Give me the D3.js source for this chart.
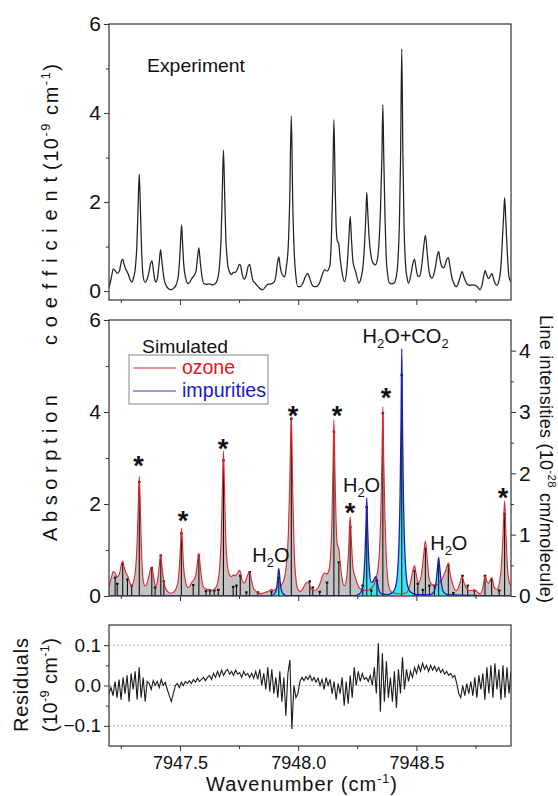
<!DOCTYPE html>
<html>
<head>
<meta charset="utf-8">
<script src="https://cdn.jsdelivr.net/npm/d3@7"></script>
<style>
body { margin: 0; background: #fff; }
text { font-family: "Liberation Sans", Arial, sans-serif; fill: #111; }
</style>
</head>
<body>
<div id="chart"></div>
<script>
var w = 558, h = 796;

// ---- data ----
// experiment: [wavenumber cm-1, absorption 1e-9 cm-1]
var experiment = [
  [7947.200,0.08],[7947.210,0.30],[7947.218,0.50],[7947.226,0.46],[7947.234,0.40],[7947.244,0.45],
  [7947.252,0.66],[7947.258,0.72],[7947.264,0.60],[7947.272,0.48],[7947.280,0.40],[7947.290,0.25],
  [7947.296,0.20],[7947.304,0.30],[7947.312,0.55],[7947.318,1.05],[7947.323,1.90],[7947.328,2.63],
  [7947.333,1.80],[7947.338,0.90],[7947.344,0.35],[7947.352,0.20],[7947.360,0.25],[7947.368,0.40],
  [7947.376,0.62],[7947.382,0.68],[7947.388,0.45],[7947.394,0.25],[7947.399,0.20],[7947.405,0.30],
  [7947.412,0.62],[7947.418,0.93],[7947.424,0.65],[7947.432,0.30],[7947.442,0.12],[7947.452,0.05],
  [7947.462,0.03],[7947.472,0.06],[7947.482,0.12],[7947.492,0.30],[7947.499,0.75],[7947.503,1.15],
  [7947.507,1.49],[7947.511,1.10],[7947.516,0.60],[7947.524,0.30],[7947.534,0.17],[7947.542,0.20],
  [7947.550,0.28],[7947.560,0.35],[7947.568,0.45],[7947.575,0.78],[7947.580,0.97],[7947.586,0.65],
  [7947.594,0.30],[7947.601,0.17],[7947.612,0.15],[7947.625,0.16],[7947.637,0.14],[7947.648,0.16],
  [7947.658,0.25],[7947.667,0.55],[7947.674,1.20],[7947.679,2.20],[7947.684,3.17],[7947.689,2.20],
  [7947.694,1.20],[7947.700,0.70],[7947.708,0.45],[7947.718,0.37],[7947.726,0.42],[7947.734,0.42],
  [7947.744,0.50],[7947.751,0.60],[7947.756,0.58],[7947.763,0.38],[7947.772,0.27],[7947.780,0.35],
  [7947.788,0.55],[7947.795,0.60],[7947.802,0.40],[7947.810,0.22],[7947.818,0.18],[7947.830,0.10],
  [7947.840,0.05],[7947.850,0.03],[7947.862,0.10],[7947.872,0.15],[7947.886,0.16],[7947.898,0.20],
  [7947.906,0.35],[7947.912,0.62],[7947.918,0.77],[7947.924,0.55],[7947.932,0.38],[7947.943,0.32],
  [7947.950,0.55],[7947.958,1.00],[7947.964,2.00],[7947.971,3.94],[7947.977,2.00],[7947.983,0.90],
  [7947.990,0.35],[7947.999,0.10],[7948.010,0.10],[7948.020,0.18],[7948.030,0.32],[7948.040,0.40],
  [7948.048,0.30],[7948.058,0.15],[7948.068,0.10],[7948.077,0.10],[7948.090,0.18],[7948.104,0.40],
  [7948.112,0.48],[7948.122,0.45],[7948.133,0.55],[7948.140,1.10],[7948.146,2.30],[7948.151,3.85],
  [7948.156,2.50],[7948.161,1.40],[7948.166,1.12],[7948.171,1.08],[7948.178,0.70],[7948.186,0.40],
  [7948.196,0.21],[7948.204,0.40],[7948.210,0.80],[7948.215,1.25],[7948.220,1.68],[7948.225,1.20],
  [7948.232,0.65],[7948.243,0.44],[7948.257,0.18],[7948.266,0.30],[7948.275,0.60],[7948.282,1.20],
  [7948.287,1.80],[7948.290,2.22],[7948.294,1.80],[7948.300,1.20],[7948.308,0.80],[7948.318,0.62],
  [7948.327,0.59],[7948.336,0.75],[7948.343,1.20],[7948.349,2.00],[7948.354,3.00],[7948.358,4.19],
  [7948.362,3.00],[7948.367,1.70],[7948.372,0.80],[7948.379,0.35],[7948.386,0.18],[7948.396,0.16],
  [7948.406,0.18],[7948.414,0.30],[7948.422,0.70],[7948.428,1.50],[7948.433,3.00],[7948.438,5.44],
  [7948.443,3.00],[7948.448,1.40],[7948.454,0.60],[7948.461,0.28],[7948.467,0.18],[7948.476,0.35],
  [7948.485,0.62],[7948.492,0.72],[7948.499,0.50],[7948.507,0.33],[7948.514,0.34],[7948.522,0.55],
  [7948.530,0.95],[7948.538,1.25],[7948.545,0.90],[7948.552,0.50],[7948.560,0.32],[7948.566,0.29],
  [7948.574,0.38],[7948.582,0.60],[7948.589,0.82],[7948.594,0.89],[7948.600,0.70],[7948.608,0.55],
  [7948.615,0.52],[7948.622,0.60],[7948.629,0.72],[7948.635,0.75],[7948.642,0.55],[7948.650,0.30],
  [7948.658,0.18],[7948.668,0.10],[7948.676,0.16],[7948.684,0.30],[7948.693,0.44],[7948.702,0.30],
  [7948.712,0.18],[7948.724,0.13],[7948.738,0.14],[7948.752,0.12],[7948.760,0.08],[7948.769,0.03],
  [7948.778,0.15],[7948.785,0.35],[7948.791,0.46],[7948.798,0.35],[7948.805,0.28],[7948.812,0.33],
  [7948.819,0.39],[7948.828,0.24],[7948.840,0.13],[7948.850,0.25],[7948.858,0.60],[7948.864,1.20],
  [7948.869,1.70],[7948.873,2.10],[7948.878,1.60],[7948.884,0.90],[7948.892,0.30],[7948.900,0.20]
];

// simulated ozone spectrum (left axis)
var ozone = [
  [7947.200,0.20],[7947.210,0.40],[7947.218,0.53],[7947.226,0.50],[7947.234,0.42],[7947.244,0.48],
  [7947.252,0.68],[7947.258,0.76],[7947.264,0.62],[7947.272,0.50],[7947.280,0.42],[7947.290,0.26],
  [7947.296,0.22],[7947.304,0.32],[7947.312,0.56],[7947.318,1.05],[7947.323,1.85],[7947.328,2.60],
  [7947.333,1.80],[7947.338,0.90],[7947.344,0.36],[7947.352,0.22],[7947.360,0.26],[7947.368,0.42],
  [7947.376,0.58],[7947.382,0.62],[7947.388,0.44],[7947.394,0.25],[7947.399,0.22],[7947.405,0.32],
  [7947.412,0.62],[7947.418,0.90],[7947.424,0.64],[7947.432,0.30],[7947.442,0.14],[7947.452,0.08],
  [7947.462,0.06],[7947.472,0.08],[7947.482,0.14],[7947.492,0.32],[7947.499,0.76],[7947.503,1.15],
  [7947.507,1.47],[7947.511,1.10],[7947.516,0.60],[7947.524,0.30],[7947.534,0.18],[7947.542,0.22],
  [7947.550,0.30],[7947.560,0.36],[7947.568,0.48],[7947.575,0.78],[7947.580,0.93],[7947.586,0.64],
  [7947.594,0.30],[7947.601,0.18],[7947.612,0.15],[7947.625,0.14],[7947.637,0.12],[7947.648,0.16],
  [7947.658,0.26],[7947.667,0.56],[7947.674,1.20],[7947.679,2.20],[7947.684,3.15],[7947.689,2.20],
  [7947.694,1.20],[7947.700,0.70],[7947.708,0.48],[7947.718,0.42],[7947.726,0.46],[7947.734,0.44],
  [7947.744,0.50],[7947.751,0.56],[7947.756,0.52],[7947.763,0.34],[7947.772,0.28],[7947.780,0.36],
  [7947.788,0.48],[7947.795,0.52],[7947.802,0.36],[7947.810,0.18],[7947.818,0.12],[7947.830,0.07],
  [7947.840,0.05],[7947.850,0.06],[7947.862,0.08],[7947.872,0.10],[7947.886,0.14],[7947.898,0.12],
  [7947.906,0.16],[7947.914,0.22],[7947.922,0.20],[7947.932,0.26],[7947.944,0.45],[7947.952,0.80],
  [7947.958,1.30],[7947.964,2.40],[7947.971,3.90],[7947.977,2.30],[7947.983,1.00],[7947.990,0.40],
  [7947.999,0.14],[7948.010,0.10],[7948.020,0.16],[7948.030,0.26],[7948.040,0.30],[7948.048,0.24],
  [7948.058,0.14],[7948.068,0.12],[7948.078,0.14],[7948.090,0.24],[7948.104,0.45],[7948.112,0.50],
  [7948.122,0.48],[7948.130,0.56],[7948.136,0.80],[7948.142,1.50],[7948.147,2.70],[7948.151,3.83],
  [7948.156,2.60],[7948.161,1.50],[7948.166,1.10],[7948.171,1.05],[7948.178,0.70],[7948.186,0.36],
  [7948.196,0.22],[7948.204,0.36],[7948.210,0.70],[7948.215,1.20],[7948.220,1.72],[7948.225,1.20],
  [7948.232,0.60],[7948.242,0.40],[7948.252,0.24],[7948.262,0.16],[7948.272,0.14],[7948.282,0.12],
  [7948.292,0.12],[7948.302,0.14],[7948.312,0.18],[7948.322,0.26],[7948.330,0.40],[7948.338,0.62],
  [7948.344,1.00],[7948.349,1.70],[7948.354,2.90],[7948.358,4.12],[7948.362,2.90],[7948.367,1.70],
  [7948.372,0.90],[7948.378,0.40],[7948.386,0.16],[7948.396,0.08],[7948.410,0.06],[7948.425,0.05],
  [7948.438,0.05],[7948.452,0.06],[7948.465,0.12],[7948.475,0.30],[7948.485,0.55],[7948.492,0.66],
  [7948.499,0.48],[7948.507,0.30],[7948.514,0.32],[7948.522,0.50],[7948.530,0.85],[7948.538,1.20],
  [7948.545,0.85],[7948.552,0.45],[7948.560,0.28],[7948.566,0.25],[7948.580,0.22],[7948.594,0.28],
  [7948.606,0.34],[7948.618,0.48],[7948.628,0.62],[7948.635,0.72],[7948.642,0.50],[7948.652,0.28],
  [7948.668,0.12],[7948.676,0.16],[7948.684,0.28],[7948.693,0.42],[7948.703,0.26],[7948.713,0.16],
  [7948.724,0.12],[7948.738,0.12],[7948.752,0.12],[7948.762,0.06],[7948.770,0.05],[7948.780,0.16],
  [7948.791,0.44],[7948.798,0.32],[7948.805,0.28],[7948.812,0.34],[7948.819,0.40],[7948.828,0.20],
  [7948.840,0.14],[7948.850,0.26],[7948.860,0.70],[7948.866,1.30],[7948.873,2.07],[7948.879,1.30],
  [7948.886,0.55],[7948.892,0.32],[7948.900,0.22]
];

// simulated impurities (H2O, CO2), left axis
var impurities = [
  [7947.200,0.00],[7947.860,0.00],[7947.890,0.02],[7947.900,0.05],[7947.908,0.15],[7947.913,0.35],
  [7947.918,0.60],[7947.923,0.35],[7947.928,0.15],[7947.936,0.05],[7947.950,0.01],[7948.240,0.01],
  [7948.260,0.05],[7948.270,0.15],[7948.278,0.45],[7948.283,0.95],[7948.287,1.60],[7948.290,2.13],
  [7948.293,1.60],[7948.297,0.95],[7948.302,0.50],[7948.308,0.30],[7948.315,0.30],[7948.322,0.38],
  [7948.328,0.42],[7948.334,0.30],[7948.342,0.12],[7948.355,0.04],[7948.380,0.03],[7948.400,0.08],
  [7948.412,0.20],[7948.420,0.50],[7948.426,1.10],[7948.431,2.20],[7948.435,3.80],[7948.438,5.38],
  [7948.441,3.80],[7948.445,2.20],[7948.450,1.10],[7948.456,0.50],[7948.464,0.20],[7948.476,0.08],
  [7948.500,0.03],[7948.560,0.03],[7948.575,0.10],[7948.583,0.30],[7948.589,0.60],[7948.594,0.84],
  [7948.599,0.60],[7948.605,0.30],[7948.613,0.10],[7948.630,0.03],[7948.900,0.00]
];

// line list: [wavenumber, intensity 1e-28 cm/molecule] (right axis)
var lines = [
  [7947.226,0.30],[7947.235,0.20],[7947.258,0.52],[7947.278,0.27],[7947.296,0.17],[7947.328,1.86],
  [7947.381,0.46],[7947.395,0.14],[7947.419,0.66],[7947.432,0.24],[7947.506,1.02],[7947.556,0.18],
  [7947.580,0.66],[7947.610,0.08],[7947.627,0.09],[7947.645,0.09],[7947.662,0.10],[7947.684,2.21],
  [7947.725,0.15],[7947.739,0.17],[7947.755,0.33],[7947.781,0.06],[7947.795,0.39],[7947.830,0.06],
  [7947.887,0.07],[7947.918,0.30],[7947.971,2.89],[7948.049,0.24],[7948.062,0.14],[7948.091,0.07],
  [7948.122,0.22],[7948.151,2.68],[7948.172,0.55],[7948.220,1.12],[7948.273,0.17],[7948.290,1.45],
  [7948.309,0.09],[7948.333,0.25],[7948.358,2.98],[7948.438,3.60],[7948.492,0.41],[7948.506,0.20],
  [7948.527,0.10],[7948.538,0.77],[7948.555,0.17],[7948.576,0.17],[7948.594,0.50],[7948.635,0.50],
  [7948.656,0.05],[7948.695,0.33],[7948.717,0.17],[7948.745,0.09],[7948.790,0.33],[7948.818,0.26],
  [7948.850,0.09],[7948.873,1.34]
];

// residuals, sampled every 0.0085 cm-1 from 7947.200
var residStart = 7947.2, residStep = 0.0085;
var residuals = [
  -0.02,-0.005,-0.025,0.01,-0.03,0.015,-0.035,0.02,-0.02,0.025,
  -0.04,0.03,-0.01,0.035,-0.035,0.045,-0.03,0.02,-0.04,0.01,
  0.005,-0.01,0.012,0.0,0.01,-0.005,0.015,0.0,0.008,-0.01,
  -0.025,-0.04,-0.02,0.0,0.005,-0.005,0.008,0.0,0.01,0.005,
  0.012,0.005,0.015,0.008,0.018,0.01,0.015,0.02,0.012,0.02,
  0.025,0.015,0.03,0.02,0.035,0.022,0.038,0.025,0.035,0.04,
  0.028,0.035,0.025,0.038,0.028,0.032,0.02,0.035,0.025,0.03,
  0.02,0.03,0.018,0.035,0.015,0.04,0.0,0.03,-0.01,0.045,
  -0.015,0.04,-0.02,0.02,-0.03,0.035,-0.04,0.02,-0.075,0.03,
  0.063,-0.108,0.0,-0.03,-0.02,0.01,0.02,0.012,0.022,0.015,
  0.025,0.012,0.02,0.008,0.018,0.0,0.015,-0.01,0.02,0.0,
  0.015,-0.02,0.01,-0.035,0.005,-0.02,0.02,-0.05,0.01,-0.045,
  0.025,-0.03,0.045,0.0,0.035,0.01,0.03,0.015,0.02,0.01,
  0.025,0.0,0.045,-0.02,0.105,-0.065,0.08,-0.04,0.06,-0.03,
  0.02,-0.04,0.035,-0.055,0.04,-0.02,0.07,-0.01,0.04,0.01,
  0.035,0.02,0.045,0.03,0.05,0.035,0.055,0.04,0.05,0.035,
  0.05,0.038,0.048,0.035,0.045,0.032,0.04,0.028,0.035,0.025,
  0.03,0.02,0.025,0.005,-0.02,-0.03,0.0,-0.025,0.005,-0.02,
  0.01,-0.025,0.02,-0.03,0.025,-0.01,0.03,-0.035,0.045,-0.02,
  0.05,-0.03,0.055,-0.01,0.04,-0.035,0.05,-0.03,0.045,-0.02,0.035
];

// peak marks (asterisks) and impurity labels: [wavenumber, left-axis value]
var starMarks = [
  [7947.325,2.96],[7947.513,1.76],[7947.682,3.33],[7947.978,4.04],
  [7948.164,4.04],[7948.219,1.93],[7948.371,4.43],[7948.866,2.26]
];
var impLabels = [
  { wn: 7947.885, y: 0.74, text: ["H", "2", "O"] },
  { wn: 7948.268, y: 2.26, text: ["H", "2", "O"] },
  { wn: 7948.637, y: 1.00, text: ["H", "2", "O"] },
  { wn: 7948.454, y: 5.50, text: ["H", "2", "O+CO", "2", ""] }
];

var xMajor = [7947.5, 7948.0, 7948.5];
var xMinor = [7947.25, 7947.75, 7948.25, 7948.75];

// ---- layout ----
var left = 109, right = 511;
var svg = d3.select("#chart").append("svg").attr("width", w).attr("height", h);

var x = d3.scaleLinear().domain([7947.2, 7948.9]).range([left, right]);
var yExp = d3.scaleLinear().domain([-0.2, 6]).range([300, 24]);
var ySim = d3.scaleLinear().domain([0, 6]).range([596, 320]);
var yInt = d3.scaleLinear().domain([0, 4.5]).range([596, 320]);
var yRes = d3.scaleLinear().domain([-0.15, 0.15]).range([746, 625]);

function clip(id, y0, y1) {
  svg.append("clipPath").attr("id", id).append("rect")
    .attr("x", left).attr("y", y0).attr("width", right - left).attr("height", y1 - y0);
}
clip("cTop", 24, 300);
clip("cMid", 320, 596);
clip("cRes", 625, 746);

function frame(y0, y1) {
  svg.append("rect").attr("x", left).attr("y", y0)
    .attr("width", right - left).attr("height", y1 - y0)
    .attr("fill", "none").attr("stroke", "#333").attr("stroke-width", 1.2);
}

function xTicks(yPos, labels) {
  var g = svg.append("g").attr("transform", "translate(0," + yPos + ")");
  g.call(d3.axisBottom(x).tickValues(xMajor).tickSize(5).tickPadding(5)
    .tickFormat(labels ? d3.format(".1f") : ""));
  g.append("g").call(d3.axisBottom(x).tickValues(xMinor).tickSize(3).tickFormat(""));
  g.selectAll(".domain").remove();
  g.selectAll("line").attr("stroke", "#333");
  g.selectAll("text").attr("font-size", 18).style("font-family", "Liberation Sans, Arial, sans-serif").attr("fill", "#111");
}

function yTicks(scale, major, minor, xPos, side, fmt, fs) {
  var ax = side === "left" ? d3.axisLeft : d3.axisRight;
  var g = svg.append("g").attr("transform", "translate(" + xPos + ",0)");
  g.call(ax(scale).tickValues(major).tickSize(5).tickPadding(3).tickFormat(fmt));
  g.append("g").call(ax(scale).tickValues(minor).tickSize(3).tickFormat(""));
  g.selectAll(".domain").remove();
  g.selectAll("line").attr("stroke", "#333");
  g.selectAll("text").attr("font-size", fs).style("font-family", "Liberation Sans, Arial, sans-serif").attr("fill", "#111");
}

// ---- top panel: experiment ----
var lineExp = d3.line().x(d => x(d[0])).y(d => yExp(d[1])).curve(d3.curveMonotoneX);
svg.append("path").datum(experiment).attr("d", lineExp)
  .attr("clip-path", "url(#cTop)")
  .attr("fill", "none").attr("stroke", "#222").attr("stroke-width", 1.25);
frame(24, 300);
yTicks(yExp, [0, 2, 4, 6], [1, 3, 5], left, "left", d3.format("d"), 21);
xTicks(300, false);
svg.append("text").attr("x", 147).attr("y", 72).attr("font-size", 19)
  .attr("textLength", 98).attr("lengthAdjust", "spacingAndGlyphs").text("Experiment");

// ---- middle panel: simulation ----
var areaOz = d3.area().x(d => x(d[0])).y0(ySim(0)).y1(d => ySim(d[1])).curve(d3.curveMonotoneX);
var lineOz = d3.line().x(d => x(d[0])).y(d => ySim(d[1])).curve(d3.curveMonotoneX);
var gMid = svg.append("g").attr("clip-path", "url(#cMid)");
gMid.append("path").datum(ozone).attr("d", areaOz).attr("fill", "#c3c3c3");
gMid.append("path").datum(impurities).attr("d", areaOz).attr("fill", "#40e6ee");
gMid.selectAll("line.stick").data(lines).enter().append("line")
  .attr("class", "stick")
  .attr("x1", d => x(d[0])).attr("x2", d => x(d[0]))
  .attr("y1", yInt(0)).attr("y2", d => yInt(d[1]))
  .attr("stroke", "#111").attr("stroke-width", 1.1);
gMid.selectAll("rect.cap").data(lines).enter().append("rect")
  .attr("class", "cap")
  .attr("x", d => x(d[0]) - 1.3).attr("y", d => yInt(d[1]) - 1)
  .attr("width", 2.6).attr("height", 2).attr("fill", "#111");
gMid.append("path").datum(ozone).attr("d", lineOz)
  .attr("fill", "none").attr("stroke", "#e3222a").attr("stroke-width", 1.1);
gMid.append("path").datum(impurities).attr("d", lineOz)
  .attr("fill", "none").attr("stroke", "#1c1cb4").attr("stroke-width", 1.3);
frame(320, 596);
yTicks(ySim, [0, 2, 4, 6], [1, 3, 5], left, "left", d3.format("d"), 21);
yTicks(yInt, [0, 1, 2, 3, 4], [0.5, 1.5, 2.5, 3.5], right, "right", d3.format("d"), 21);
xTicks(596, false);

// asterisks
svg.selectAll("text.star").data(starMarks).enter().append("text")
  .attr("class", "star")
  .attr("x", d => x(d[0])).attr("y", d => ySim(d[1]) + 15)
  .attr("text-anchor", "middle").attr("font-size", 27).attr("font-weight", "bold")
  .text("*");

// impurity labels with subscripts
impLabels.forEach(function (l) {
  var t = svg.append("text").attr("x", x(l.wn)).attr("y", ySim(l.y))
    .attr("text-anchor", "middle").attr("font-size", 20);
  l.text.forEach(function (s, i) {
    var sub = i % 2 === 1;
    t.append("tspan").attr("font-size", sub ? 13 : 20)
      .attr("dy", sub ? 5 : (i > 0 ? -5 : 0)).text(s);
  });
});

// legend
svg.append("text").attr("x", 142).attr("y", 353).attr("font-size", 19)
  .attr("textLength", 86).attr("lengthAdjust", "spacingAndGlyphs").text("Simulated");
svg.append("rect").attr("x", 129).attr("y", 355).attr("width", 139).attr("height", 49)
  .attr("fill", "none").attr("stroke", "#888").attr("stroke-width", 1);
var legend = [
  { name: "ozone", color: "#e3222a", text: "#e8141b", len: 53 },
  { name: "impurities", color: "#3a3aa0", text: "#1818c8", len: 84 }
];
legend.forEach(function (d, i) {
  var yy = 368 + i * 23;
  svg.append("line").attr("x1", 133).attr("x2", 176).attr("y1", yy).attr("y2", yy)
    .attr("stroke", d.color).attr("stroke-width", 1.1);
  svg.append("text").attr("x", 182).attr("y", yy + 6).attr("font-size", 20)
    .attr("textLength", d.len).attr("lengthAdjust", "spacingAndGlyphs")
    .style("fill", d.text).text(d.name);
});

// ---- bottom panel: residuals ----
var residData = residuals.map((v, i) => [residStart + i * residStep, v]);
[-0.1, 0, 0.1].forEach(function (g) {
  svg.append("line").attr("x1", left).attr("x2", right)
    .attr("y1", yRes(g)).attr("y2", yRes(g))
    .attr("stroke", "#9a9a9a").attr("stroke-width", 0.8).attr("stroke-dasharray", "2,2");
});
var lineRes = d3.line().x(d => x(d[0])).y(d => yRes(d[1]));
svg.append("path").datum(residData).attr("d", lineRes)
  .attr("clip-path", "url(#cRes)")
  .attr("fill", "none").attr("stroke", "#1a1a1a").attr("stroke-width", 1.1);
frame(625, 746);
yTicks(yRes, [-0.1, 0, 0.1], [-0.05, 0.05], left, "left", d3.format(".1f"), 19);
xTicks(746, true);

// ---- axis titles (text stretched to the spans seen in the figure) ----
function vText(xp, yp, fs, len, parts, rot) {
  var t = svg.append("text")
    .attr("transform", "translate(" + xp + "," + yp + ") rotate(" + rot + ")")
    .attr("font-size", fs);
  parts.forEach(function (p) {
    t.append("tspan").attr("font-size", p[1] ? fs * 0.64 : fs)
      .attr("dy", p[1] ? -fs * 0.42 : (p[2] ? fs * 0.42 : 0)).text(p[0]);
  });
  if (len) t.attr("textLength", len).attr("lengthAdjust", "spacing");
  return t;
}
var unitParts = [["(10"], ["-9", 1], [" cm", 0, 1], ["-1", 1], [")", 0, 1]];
vText(57, 541, 20, 146, [["Absorption"]], -90);
vText(57, 345, 20, 168, [["coefficient"]], -90);
vText(58, 170, 20, 106, unitParts, -90);

vText(28, 732, 20, 94, [["Residuals"]], -90);
vText(57, 732, 20, 94, unitParts, -90);

vText(540, 315, 18, 288, [["Line intensities (10"], ["-28", 1], [" cm/molecule)", 0, 1]], 90);

var xt = svg.append("text").attr("x", 206).attr("y", 791).attr("font-size", 20)
  .attr("textLength", 191).attr("lengthAdjust", "spacing");
xt.append("tspan").text("Wavenumber (cm");
xt.append("tspan").attr("font-size", 12.5).attr("dy", -8).text("-1");
xt.append("tspan").attr("dy", 8).text(")");
</script>
</body>
</html>
